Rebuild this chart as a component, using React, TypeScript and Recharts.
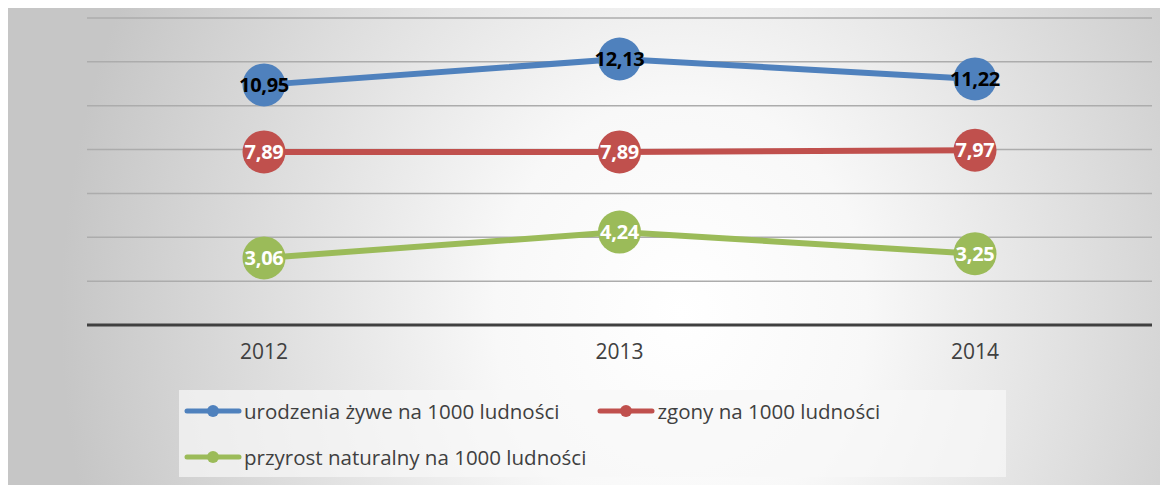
import { LineChart, Line, XAxis, YAxis, CartesianGrid, LabelList } from "recharts";

const years = ["2012", "2013", "2014"];
const births = [10.95, 12.13, 11.22];
const deaths = [7.89, 7.89, 7.97];
const growth = [3.06, 4.24, 3.25];
const yTicks = [0, 2, 4, 6, 8, 10, 12, 14];

const series = [
  { key: "births", name: "urodzenia żywe na 1000 ludności", color: "#4f81bd", labelColor: "#000000" },
  { key: "deaths", name: "zgony na 1000 ludności", color: "#c0504d", labelColor: "#ffffff" },
  { key: "growth", name: "przyrost naturalny na 1000 ludności", color: "#9bbb59", labelColor: "#ffffff" },
];

const data = years.map((year, i) => ({
  year,
  births: births[i],
  deaths: deaths[i],
  growth: growth[i],
}));

const FONT = "'Open Sans', 'Liberation Sans', sans-serif";

const fmt = (v: number) => v.toFixed(2).replace(".", ",");

function makeLabel(color: string) {
  return (props: any) => {
    const { x, y, value } = props;
    return (
      <text
        x={x}
        y={y}
        dy={7}
        textAnchor="middle"
        fill={color}
        fontFamily={FONT}
        fontWeight={700}
        fontSize={20}
        letterSpacing={-0.3}
      >
        {fmt(value)}
      </text>
    );
  };
}

function LegendIcon({ color }: { color: string }) {
  return (
    <svg width={58} height={14} style={{ display: "block" }}>
      <line x1={3} y1={7} x2={55} y2={7} stroke={color} strokeWidth={5} strokeLinecap="round" />
      <circle cx={29} cy={7} r={6} fill={color} />
    </svg>
  );
}

function LegendBox() {
  const item = (s: (typeof series)[number]) => (
    <div key={s.key} style={{ display: "flex", alignItems: "center", gap: 2 }}>
      <LegendIcon color={s.color} />
      <span>{s.name}</span>
    </div>
  );
  return (
    <div
      style={{
        position: "absolute",
        left: 171,
        top: 382,
        background: "rgba(248,248,248,0.7)",
        width: 827,
        height: 87,
        boxSizing: "border-box",
        padding: "8px 0 0 5px",
        fontFamily: FONT,
        fontSize: 20.5,
        color: "#404040",
        lineHeight: "26px",
      }}
    >
      <div style={{ display: "flex", gap: 38 }}>
        {item(series[0])}
        {item(series[1])}
      </div>
      <div style={{ marginTop: 20 }}>{item(series[2])}</div>
    </div>
  );
}

export default function App() {
  return (
    <div
      style={{
        position: "relative",
        width: 1160,
        height: 477,
        background:
          "radial-gradient(ellipse 620px 720px at 58% 64%, #ffffff 0%, #f8f8f8 30%, #c6c6c6 100%)",
      }}
    >
      <LineChart
        width={1160}
        height={477}
        data={data}
        margin={{ top: 10, right: 16, bottom: 130, left: 79 }}
      >
        <CartesianGrid vertical={false} stroke="#acacac" strokeWidth={1.5} />
        <YAxis hide domain={[0, 14]} ticks={yTicks} />
        <XAxis
          dataKey="year"
          height={30}
          padding={{ left: 177, right: 177 }}
          axisLine={{ stroke: "#404040", strokeWidth: 3 }}
          tickLine={false}
          tick={{ fill: "#404040", fontSize: 21, fontFamily: FONT }}
          tickMargin={13}
        />
        {series.map((s) => (
          <Line
            key={s.key}
            dataKey={s.key}
            name={s.name}
            stroke={s.color}
            strokeWidth={6}
            dot={{ r: 21.5, fill: s.color, stroke: "none" }}
            activeDot={false}
            isAnimationActive={false}
          >
            <LabelList dataKey={s.key} content={makeLabel(s.labelColor)} />
          </Line>
        ))}
      </LineChart>
      <LegendBox />
    </div>
  );
}
